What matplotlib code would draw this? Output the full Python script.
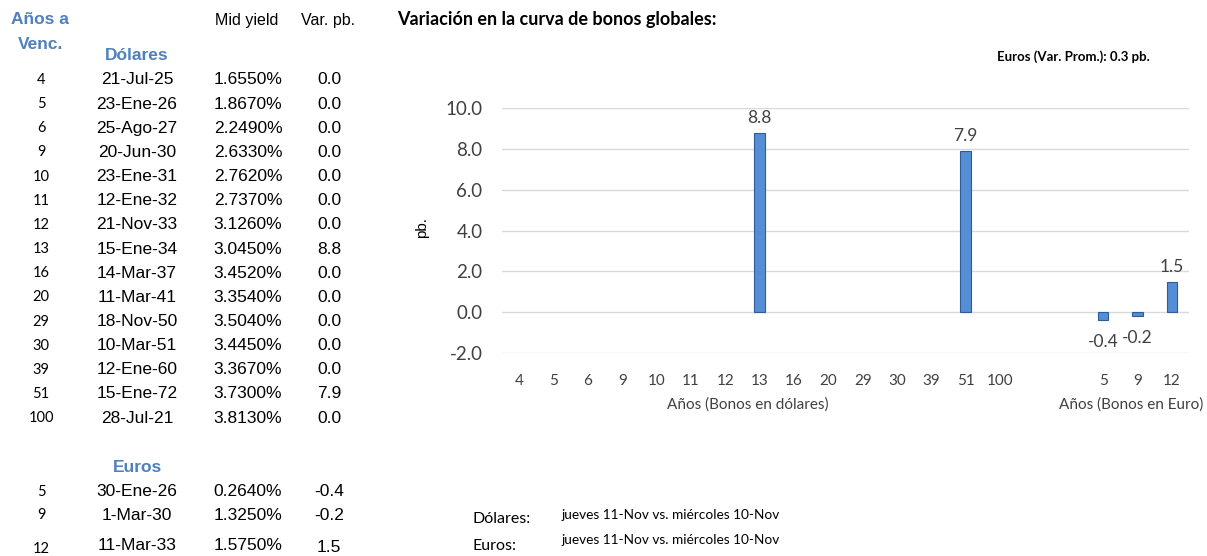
import matplotlib
matplotlib.use('Agg')
import matplotlib.pyplot as plt
import numpy as np

W, H = 1207, 556

# tabla de bonos en dolares
usd_years = ['4', '5', '6', '9', '10', '11', '12', '13', '16', '20', '29', '30', '39', '51', '100']
usd_dates = ['21-Jul-25', '23-Ene-26', '25-Ago-27', '20-Jun-30', '23-Ene-31', '12-Ene-32', '21-Nov-33',
             '15-Ene-34', '14-Mar-37', '11-Mar-41', '18-Nov-50', '10-Mar-51', '12-Ene-60', '15-Ene-72', '28-Jul-21']
usd_yield = ['1.6550%', '1.8670%', '2.2490%', '2.6330%', '2.7620%', '2.7370%', '3.1260%',
             '3.0450%', '3.4520%', '3.3540%', '3.5040%', '3.4450%', '3.3670%', '3.7300%', '3.8130%']
usd_var = [0.0, 0.0, 0.0, 0.0, 0.0, 0.0, 0.0, 8.8, 0.0, 0.0, 0.0, 0.0, 0.0, 7.9, 0.0]

# tabla de bonos en euros
eur_years = ['5', '9', '12']
eur_dates = ['30-Ene-26', '1-Mar-30', '11-Mar-33']
eur_yield = ['0.2640%', '1.3250%', '1.5750%']
eur_var = [-0.4, -0.2, 1.5]

fecha_txt = 'jueves 11-Nov vs. miércoles 10-Nov'
prom_eur = 'Euros (Var. Prom.): 0.3 pb.'

blue_hdr = '#4F81BD'
bar_col = '#558ED5'
bar_edge = '#2E5C9A'
CAL = 'Lato'
ARI = 'Liberation Sans'

fig = plt.figure(figsize=(W / 100, H / 100), dpi=100)


def px(x, y):
    return x / W, 1 - y / H


def t(x, y, s, **kw):
    kw.setdefault('va', 'center')
    kw.setdefault('ha', 'center')
    fig.text(*px(x, y), s, **kw)


# --- tabla ---
t(40, 20, 'Años a', color=blue_hdr, fontweight='bold', fontsize=12.5, family=ARI)
t(41, 45, 'Venc.', color=blue_hdr, fontweight='bold', fontsize=12.5, family=ARI)
t(137, 55, 'Dólares', color=blue_hdr, fontweight='bold', fontsize=12.5, family=ARI)
t(247, 20, 'Mid yield', fontsize=11.5, family=ARI)
t(328, 20, 'Var. pb.', fontsize=11.5, family=ARI)

for i in range(len(usd_years)):
    y = 80 + i * 24.15
    t(41, y, usd_years[i], fontsize=10.5, family=CAL)
    t(137, y, usd_dates[i], fontsize=12.5, family=ARI)
    t(248, y, usd_yield[i], fontsize=12.5, family=ARI)
    t(329, y, '%.1f' % usd_var[i], fontsize=12.5, family=ARI)

t(137, 467, 'Euros', color=blue_hdr, fontweight='bold', fontsize=12.5, family=ARI)
eur_y = [492, 515, 545]
for i in range(len(eur_years)):
    t(41, eur_y[i] + (4 if i == 2 else 0), eur_years[i], fontsize=10.5, family=CAL)
    t(137, eur_y[i], eur_dates[i], fontsize=12.5, family=ARI)
    t(248, eur_y[i], eur_yield[i], fontsize=12.5, family=ARI)
    t(329, eur_y[i] + (3 if i == 2 else 0), '%.1f' % eur_var[i], fontsize=12.5, family=ARI)

# --- grafica ---
t(397, 20, 'Variación en la curva de bonos globales:', ha='left', fontweight='bold', fontsize=13, family=CAL)
t(1150, 57, prom_eur, ha='right', fontweight='bold', fontsize=9.5, family=CAL)

labels = usd_years + ['', ''] + eur_years
vals = usd_var + [np.nan, np.nan] + eur_var
xpos = np.arange(len(labels))
lw = [0 if (np.isnan(v) or v == 0) else 0.8 for v in vals]

l, r = px(502, 0)[0], px(1189, 0)[0]
b, tp = px(0, 353)[1], px(0, 108)[1]
ax = fig.add_axes([l, b, r - l, tp - b])
ax.bar(xpos, vals, width=0.31, color=bar_col, edgecolor=bar_edge, linewidth=lw, zorder=3)
ax.set_xlim(-0.5, len(labels) - 0.5)
ax.set_ylim(-2, 10)
ax.set_yticks(np.arange(-2, 10.1, 2))
ax.set_yticklabels(['%.1f' % v for v in np.arange(-2, 10.1, 2)], family=CAL, fontsize=13.5, color='#404040')
ax.set_xticks(xpos)
ax.set_xticklabels(labels, family=CAL, fontsize=11, color='#404040')
ax.tick_params(axis='x', length=0, pad=15)
ax.tick_params(axis='y', length=0, pad=14)
ax.grid(axis='y', color='#D9D9D9', linewidth=1, zorder=0)
for s in ax.spines.values():
    s.set_visible(False)

for xi, v in zip(xpos, vals):
    if np.isnan(v) or v == 0:
        continue
    if v > 0:
        ax.annotate('%.1f' % v, (xi, v), xytext=(0, 5), textcoords='offset points',
                    ha='center', va='bottom', family=CAL, fontsize=12.5, color='#404040')
    else:
        ax.annotate('%.1f' % v, (xi, v), xytext=(0, -10), textcoords='offset points',
                    ha='center', va='top', family=CAL, fontsize=12.5, color='#404040')

t(422, 228, 'pb.', rotation=90, fontsize=11, family=ARI)
t(748, 405, 'Años (Bonos en dólares)', fontsize=11, family=CAL, color='#404040')
t(1131, 405, 'Años (Bonos en Euro)', fontsize=11, family=CAL, color='#404040')

# notas
t(472, 519, 'Dólares:', ha='left', fontsize=11.5, family=CAL)
t(562, 515, fecha_txt, ha='left', fontsize=9.8, family=CAL)
t(473, 546, 'Euros:', ha='left', fontsize=11.5, family=CAL)
t(562, 540, fecha_txt, ha='left', fontsize=9.8, family=CAL)

fig.savefig('out.png', dpi=100)
